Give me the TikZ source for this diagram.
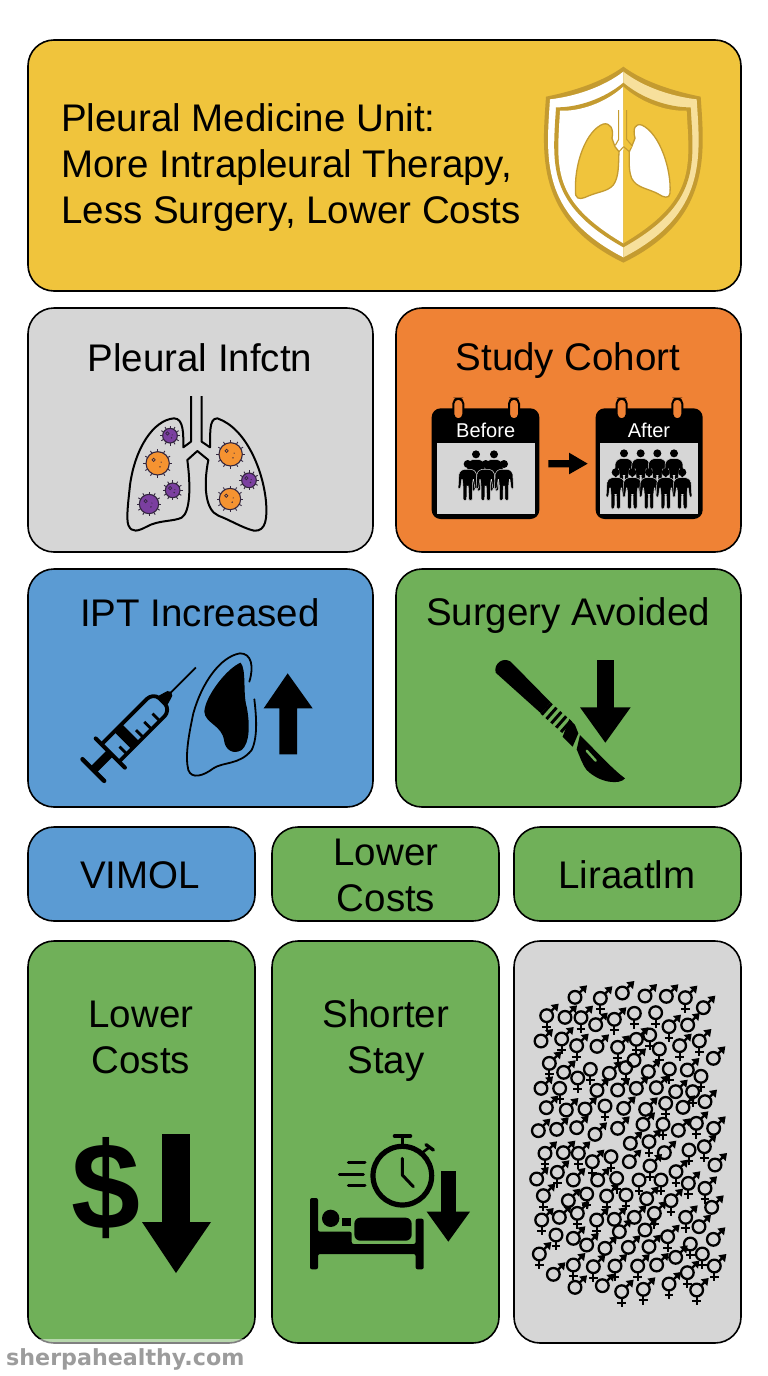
\documentclass[tikz,border=0pt]{standalone}
\usepackage{fontspec}
\setmainfont{Liberation Sans}
\newfontfamily\wmfont{DejaVu Sans}
\definecolor{cyellow}{HTML}{F0C43C}
\definecolor{corange}{HTML}{EF8235}
\definecolor{cblue}{HTML}{5B9BD3}
\definecolor{cgreen}{HTML}{70B059}
\definecolor{cgrey}{HTML}{D6D6D6}
\definecolor{gold}{HTML}{C49B30}
\definecolor{cream}{HTML}{F7E09C}
\definecolor{vorange}{HTML}{F59331}
\definecolor{vpurple}{HTML}{7B3FA0}
\definecolor{vdark}{HTML}{33263F}
\definecolor{wm}{HTML}{9C9C9C}
\tikzset{
  panel/.style={draw=black,line width=1.6pt,rounded corners=26pt},
  head/.style={font=\fontsize{38.5}{46}\selectfont,align=center,inner sep=0pt,text=black},
  gs/.style={draw=black,line width=2.3pt},
  lungline/.style={draw=black,line width=2pt,line join=round},
  zoomed/.style={x=0.33333pt,y=-0.33333pt}
}
\newcommand{\gArrow}{%
  \draw[gs] (13,-13) -- (27,-27);
  \fill[black] (36,-36) -- (12,-32) -- (32,-12) -- cycle;}
\newcommand{\gCross}{%
  \draw[gs] (0,18) -- (0,46);
  \draw[gs] (-13,33) -- (13,33);}
\newcommand{\gM}[2]{\begin{scope}[shift={(#1,#2)}]\draw[gs] (0,0) circle (19);\gArrow\end{scope}}
\newcommand{\gH}[2]{\begin{scope}[shift={(#1,#2)}]\draw[gs] (0,0) circle (19);\gArrow\gCross\end{scope}}
\newcommand{\gV}[2]{\begin{scope}[shift={(#1,#2)}]\draw[gs] (0,0) circle (19);\gCross\end{scope}}
\newcommand{\gperson}[2]{\begin{scope}[shift={(#1,#2)}]
  \fill[black] (0,0) circle (12);
  \fill[black,draw=cgrey,line width=0.5pt,rounded corners=1.5pt] (-15,16) -- (15,16) -- (26,26) -- (29,76) -- (22,76) -- (17,42) -- (14,62) -- (14,110) -- (3,110) -- (2,66) -- (-2,66) -- (-3,110) -- (-14,110) -- (-14,62) -- (-17,42) -- (-22,76) -- (-29,76) -- (-26,26) -- cycle;
\end{scope}}
\newcommand{\virus}[4]{\begin{scope}[shift={(#1,#2)}]
  \foreach \a in {0,30,...,330}{\draw[vdark,line width=0.9pt] (\a:#3) -- (\a:{#3+8});}
  \filldraw[fill=#4,draw=vdark,line width=1.1pt] (0,0) circle (#3);
  \draw[vdark,line width=0.7pt] ({-0.35*#3},{-0.3*#3}) circle (5);
  \fill[vdark] ({0.2*#3},{0.3*#3}) circle (2.5);
  \fill[vdark] ({0.3*#3},{-0.1*#3}) circle (1.8);
\end{scope}}
\newcommand{\shld}[4]{(310,#1) .. controls ({310+0.28*#2},{#1+48}) and ({310+0.68*#2},{#1+75}) .. ({310+#2},#3) .. controls ({310+1.05*#2},{#3+170}) and ({310+1.15*#2},{#4-130}) .. (310,#4) .. controls ({310-1.15*#2},{#4-130}) and ({310-1.05*#2},{#3+170}) .. ({310-#2},#3) .. controls ({310-0.68*#2},{#1+75}) and ({310-0.28*#2},{#1+48}) .. cycle}
\newcommand{\calbody}[4]{% x0 x1 inner-x0 inner-x1
  \fill[black,rounded corners=9pt] (#1,55) rectangle (#2,387);
  \fill[cgrey] (#3,158) rectangle (#4,372);}
\newcommand{\calring}[1]{\filldraw[fill=corange,draw=black,line width=2pt,rounded corners=5pt] ({#1-15},26) rectangle ({#1+15},88);}
\begin{document}
\begin{tikzpicture}[x=1pt,y=-1pt]
\useasboundingbox (0,0) rectangle (768,1376);
\fill[white] (0,0) rectangle (768,1376);
% panels
\draw[panel,fill=cyellow] (28,40) rectangle (741,291);
\draw[panel,fill=cgrey] (28,308) rectangle (373,552);
\draw[panel,fill=corange] (396,308) rectangle (741,552);
\draw[panel,fill=cblue] (28,569) rectangle (373,807);
\draw[panel,fill=cgreen] (396,569) rectangle (741,807);
\draw[panel,fill=cblue] (28,827) rectangle (255,921);
\draw[panel,fill=cgreen] (272,827) rectangle (499,921);
\draw[panel,fill=cgreen] (514,827) rectangle (741,921);
\draw[panel,fill=cgreen] (28,941) rectangle (255,1343);
\draw[panel,fill=cgreen] (272,941) rectangle (499,1343);
\draw[panel,fill=cgrey] (514,941) rectangle (741,1343);
% texts
\node[head,align=left,anchor=west] (title) at (61,168) {Pleural Medicine Unit:\\More Intrapleural Therapy,\\Less Surgery, Lower Costs};
\node[head] (infect) at (200,358) {Pleural Infctn};
\node[head] (cohort) at (568,361) {Study Cohort};
\node[head] (ipt) at (200,613) {IPT Increased};
\node[head] (surg) at (568,616) {Surgery Avoided};
\node[head] (vimol) at (140,875) {VIMOL};
\node[head] (lc1) at (386,875) {Lower\\Costs};
\node[head] (lira) at (627,875) {Liraatlm};
\node[head] (lc2) at (141,1037) {Lower\\Costs};
\node[head] (stay) at (386,1040.5) {Shorter\\Stay};
% shield
\begin{scope}[shift={(520,50)},zoomed]
  \fill[gold] \shld{50}{232}{140}{638};
  \begin{scope}\clip (0,0) rectangle (310,660); \fill[white] \shld{65}{220}{148}{622};\end{scope}
  \begin{scope}\clip (310,0) rectangle (630,660); \fill[cream] \shld{65}{220}{148}{622};\end{scope}
  \fill[gold] \shld{98}{202}{172}{592};
  \begin{scope}\clip (0,0) rectangle (310,660); \fill[white] \shld{110}{190}{182}{580};\end{scope}
  \begin{scope}\clip (310,0) rectangle (630,660); \fill[cyellow] \shld{110}{190}{182}{580};\end{scope}
  \filldraw[fill=cyellow,draw=gold,line width=1.3pt,line join=round] (276,265) .. controls (282,235) and (270,218) .. (250,222) .. controls (200,240) and (160,340) .. (167,435) .. controls (172,452) and (190,445) .. (205,438) .. controls (235,425) and (262,425) .. (280,405) .. controls (298,380) and (295,340) .. (297,305) -- (285,290) -- cycle;
  \filldraw[fill=white,draw=gold,line width=1.3pt,line join=round] (345,265) .. controls (338,235) and (345,220) .. (365,225) .. controls (420,250) and (455,360) .. (450,430) .. controls (448,448) and (430,442) .. (415,432) .. controls (385,415) and (350,415) .. (335,385) .. controls (325,360) and (328,330) .. (328,305) -- (335,290) -- cycle;
  \fill[white] (296,180) -- (310,180) -- (310,300) -- (298,300) -- (287,288) -- (296,270) -- cycle;
  \fill[cyellow] (310,180) -- (320,180) -- (320,270) -- (336,290) -- (326,300) -- (310,285) -- cycle;
  \draw[gold,line width=1.1pt,line join=round] (296,180) -- (296,268) -- (286,286) (320,180) -- (320,268) -- (337,288);
  \draw[gold,line width=1.1pt,line join=round] (297,305) -- (311,290) -- (328,305);
\end{scope}
% infected lungs
\begin{scope}[shift={(100,385)},zoomed]
  \draw[lungline] (273,33) -- (273,170) -- (250,187) .. controls (250,150) and (252,100) .. (222,100) .. controls (160,105) and (105,190) .. (90,300) .. controls (85,350) and (78,400) .. (85,420) .. controls (95,445) and (115,438) .. (140,425) .. controls (175,405) and (220,410) .. (245,398) .. controls (272,380) and (272,300) .. (262,225) -- (292,198) -- (325,225) .. controls (310,300) and (315,375) .. (355,392) .. controls (390,405) and (430,430) .. (462,437) .. controls (498,440) and (502,400) .. (498,350) .. controls (490,260) and (440,130) .. (352,100) .. controls (325,100) and (332,150) .. (330,187) -- (305,170) -- (305,33);
  \virus{173}{235}{35}{vorange}
  \virus{392}{208}{35}{vorange}
  \virus{390}{342}{32}{vorange}
  \virus{210}{152}{22}{vpurple}
  \virus{218}{316}{22}{vpurple}
  \virus{147}{357}{29}{vpurple}
  \virus{447}{286}{22}{vpurple}
\end{scope}
% cohort
\begin{scope}[shift={(420,390)},zoomed]
  \calbody{35}{358}{50}{345}
  \calbody{527}{848}{540}{835}
  \calring{115}\calring{282}\calring{605}\calring{772}
  \node[text=white,font=\fontsize{20}{24}\selectfont,inner sep=0pt] (before) at (197,122) {Before};
  \node[text=white,font=\fontsize{20}{24}\selectfont,inner sep=0pt] (after) at (687,122) {After};
  \gperson{168}{193}\gperson{222}{193}
  \gperson{143}{222}\gperson{197}{222}\gperson{252}{222}
  \gperson{612}{190}\gperson{662}{190}\gperson{712}{190}\gperson{762}{190}
  \gperson{587}{247}\gperson{637}{247}\gperson{687}{247}\gperson{737}{247}\gperson{787}{247}
  \fill[black] (385,210) -- (447,210) -- (447,188) -- (503,221) -- (447,253) -- (447,232) -- (385,232) -- cycle;
\end{scope}
% IPT icon
\begin{scope}[shift={(70,640)},zoomed]
  \begin{scope}[shift={(70,390)},rotate=45]
    \draw[black,line width=4.4pt,line cap=round] (0,-46) -- (0,46);
    \fill[black] (0,-13) rectangle (72,13);
    \draw[black,line width=4pt,line cap=round] (72,-62) -- (72,62);
    \draw[black,line width=3.8pt,rounded corners=3pt] (72,-37) -- (275,-37) -- (292,-22) -- (292,22) -- (275,37) -- (72,37);
    \fill[black] (125,-37) rectangle (158,37);
    \draw[black,line width=2.8pt] (175,37) -- (175,6) (210,37) -- (210,6) (245,37) -- (245,6) (105,37) -- (105,6);
    \fill[black,rounded corners=2pt] (292,-20) -- (320,-12) -- (330,-8) -- (330,8) -- (320,12) -- (292,20) -- cycle;
    \draw[black,line width=1.7pt] (325,0) -- (435,0);
  \end{scope}
  \draw[black,line width=1.8pt,line cap=round] (538,125) .. controls (552,80) and (545,40) .. (510,40) .. controls (450,50) and (395,130) .. (370,220) .. controls (355,290) and (345,350) .. (355,390) .. controls (365,418) and (400,408) .. (430,385) .. controls (460,365) and (510,375) .. (545,330) .. controls (565,290) and (558,220) .. (553,178);
  \fill[black] (512,68) .. controls (470,85) and (405,170) .. (403,215) .. controls (405,250) and (455,255) .. (462,300) .. controls (465,330) and (490,345) .. (515,330) .. controls (540,310) and (540,250) .. (530,200) .. controls (518,160) and (530,90) .. (512,68) -- cycle;
  \fill[black] (653,100) -- (728,205) -- (681,205) -- (681,343) -- (628,343) -- (628,205) -- (581,205) -- cycle;
\end{scope}
% scalpel
\begin{scope}[shift={(480,650)},zoomed]
  \fill[black] (47,68) .. controls (40,40) and (70,20) .. (92,35) -- (212,157) -- (183,190) -- cycle;
  \foreach \t in {0,1,2,3,4}{
    \draw[black,line width=3pt] ({200+\t*14.5},{177+\t*13}) ++(15,-17) -- ++(-30,34);
  }
  \fill[black] (268,207) -- (285,225) -- (295,250) -- (278,290) -- (248,260) -- cycle;
  \fill[black] (300,255) .. controls (345,300) and (400,360) .. (435,385) .. controls (420,405) and (360,400) .. (320,360) .. controls (305,340) and (300,320) .. (290,298) -- cycle;
  \draw[cgreen,line width=2.4pt,line cap=round] (320,302) -- (347,332);
  \fill[black] (350,30) rectangle (403,175);
  \fill[black] (300,172) -- (452,172) -- (376,278) -- cycle;
\end{scope}
% dollar
\node[font=\fontsize{124}{124}\selectfont\bfseries,inner sep=0pt,text=black] (dollar) at (106,1188) {\$};
\fill[black] (162,1134) rectangle (190,1224);
\fill[black] (142,1222) -- (211,1222) -- (176,1273) -- cycle;
% stay icon
\begin{scope}[shift={(300,1120)},zoomed]
  \draw[black,line width=5.2pt] (307,167) circle (88);
  \draw[black,line width=3pt] (307,80) -- (307,50);
  \draw[black,line width=4.6pt,line cap=round] (285,48) -- (330,48);
  \draw[black,line width=2.6pt] (368,97) -- (388,82);
  \draw[black,line width=3.4pt,line cap=round] (378,74) -- (400,90);
  \draw[black,line width=3pt,line cap=round,line join=round] (307,115) -- (307,165) -- (340,200);
  \draw[black,line width=3pt,line cap=round] (145,128) -- (195,128);
  \draw[black,line width=3pt,line cap=round] (118,163) -- (190,163);
  \draw[black,line width=3pt,line cap=round] (145,197) -- (195,197);
  \fill[black,rounded corners=2pt] (30,448) -- (30,234) -- (54,234) -- (54,335) -- (155,335) -- (155,372) -- (347,372) -- (347,296) -- (371,296) -- (371,448) -- (347,448) -- (347,402) -- (54,402) -- (54,448) -- cycle;
  \fill[black] (92,295) circle (26);
  \fill[black] (127,295) rectangle (153,318);
  \fill[black,rounded corners=6pt] (163,293) -- (335,293) -- (335,362) -- (163,362) -- cycle;
  \fill[black] (422,152) rectangle (467,278);
  \fill[black] (380,275) -- (510,275) -- (445,365) -- cycle;
\end{scope}
% gender symbols, upper part
\begin{scope}[shift={(525,975)},zoomed]
  \foreach \x/\y in {150/67,292/54,360/63,424/64,535/98,120/127,212/149,488/150,48/198,216/214,565/250,116/292,253/295,327/256,370/290,487/285,48/340,216/346,278/345,334/340,394/338,452/350,540/380,64/398,124/405,180/402,296/400,362/403,474/397,40/467,95/463,155/458,210/478,278/460,354/448,460/466,566/460}{\gM{\x}{\y}}
  \foreach \x/\y in {226/70,481/68,65/122,168/128,268/133,432/155,110/192,155/212,278/217,334/193,464/212,523/198,73/265,514/445}{\gH{\x}{\y}}
  \foreach \x/\y in {328/115,392/113,374/180,403/222,196/283,302/278,433/282,528/304,158/309,104/340,503/350,240/393,422/385,414/448}{\gV{\x}{\y}}
\end{scope}
% gender symbols, lower part
\begin{scope}[shift={(525,1130)},zoomed]
  \foreach \x/\y in {115/68,316/40,418/68,570/105,313/95,35/147,145/150,218/150,130/212,365/206,103/262,268/268,328/262,560/232,522/290,145/325,185/345,240/355,283/305,310/352,360/300,372/350,565/328,395/405,452/382,85/433,150/472,232/467}{\gM{\x}{\y}}
  \foreach \x/\y in {60/70,160/70,202/95,372/35,538/50,375/108,453/125,97/127,490/160,540/175,55/197,245/198,438/212,50/270,157/250,215/270,388/250,482/262,428/320,43/372,145/405,205/410,270/408,338/408,568/408,290/485,355/478,432/462,487/428,515/480}{\gH{\x}{\y}}
  \foreach \x/\y in {258/80,492/60,275/145,342/150,408/150,185/192,303/195,93/315,496/342,532/372}{\gV{\x}{\y}}
\end{scope}
% watermark
\fill[white,opacity=0.5] (0,1339) rectangle (246,1376);
\node[font=\wmfont\bfseries\fontsize{22.2}{24}\selectfont,text=wm,inner sep=0pt,anchor=base west] (mark) at (6,1365) {sherpahealthy.com};
\end{tikzpicture}
\end{document}
